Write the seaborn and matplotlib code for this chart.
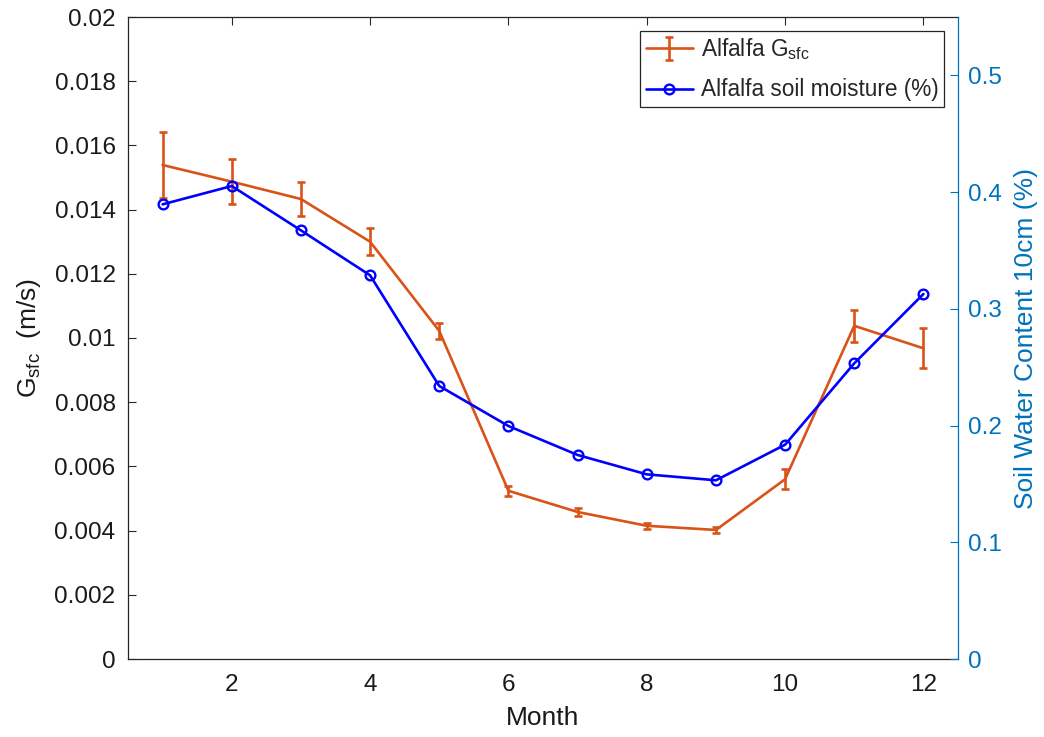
import matplotlib
matplotlib.use('Agg')
import matplotlib.pyplot as plt
import seaborn as sns
import pandas as pd

# ---------------- data ----------------
months = [1, 2, 3, 4, 5, 6, 7, 8, 9, 10, 11, 12]
gsfc = [0.01539, 0.01487, 0.01433, 0.01300, 0.01022, 0.00524,
        0.00458, 0.00415, 0.00402, 0.00560, 0.01038, 0.00968]
gsfc_err = [0.00102, 0.00071, 0.00052, 0.00042, 0.00026, 0.00016,
            0.00013, 0.00010, 0.00010, 0.00031, 0.00049, 0.00062]
soil = [0.3895, 0.4052, 0.3672, 0.3287, 0.2339, 0.1996,
        0.1748, 0.1582, 0.1531, 0.1836, 0.2533, 0.3127]

x_ticks = [2, 4, 6, 8, 10, 12]
left_ticks = [0, 0.002, 0.004, 0.006, 0.008, 0.010, 0.012, 0.014, 0.016, 0.018, 0.020]
left_tick_labels = ['0', '0.002', '0.004', '0.006', '0.008', '0.01',
                    '0.012', '0.014', '0.016', '0.018', '0.02']
right_ticks = [0, 0.1, 0.2, 0.3, 0.4, 0.5]
right_tick_labels = ['0', '0.1', '0.2', '0.3', '0.4', '0.5']

label_gsfc = r'Alfalfa $\mathregular{G_{sfc}}$'
label_soil = 'Alfalfa soil moisture (%)'
xlabel = 'Month'
ylabel_left = r'$\mathregular{G_{sfc}}$  (m/s)'
ylabel_right = 'Soil Water Content 10cm (%)'

# ---------------- style ----------------
orange = '#D95319'
blue = '#0000FF'
axis_blue = '#0072BD'
gray = '#262626'

sns.set_theme(style='white')
plt.rcParams['font.family'] = ['Liberation Sans', 'DejaVu Sans']
plt.rcParams['mathtext.fontset'] = 'custom'
plt.rcParams['mathtext.rm'] = 'Liberation Sans'
plt.rcParams['axes.linewidth'] = 0.9

df = pd.DataFrame({'month': months, 'gsfc': gsfc, 'err': gsfc_err, 'soil': soil})

fig = plt.figure(figsize=(10.44, 7.37), dpi=100)
ax1 = fig.add_axes([128 / 1044, 1 - 659 / 737, (958 - 128) / 1044, (659 - 17) / 737])

sns.lineplot(data=df, x='month', y='gsfc', ax=ax1, color=orange, linewidth=1.9)
gline = ax1.get_lines()[-1]
eb = ax1.errorbar(df['month'], df['gsfc'], yerr=df['err'], fmt='none',
                  ecolor=orange, elinewidth=1.9, capsize=2.6, capthick=1.9)

ax1.set_xlim(0.5, 12.5)
ax1.set_ylim(0, 0.02)
ax1.set_xticks(x_ticks)
ax1.set_xticklabels([str(t) for t in x_ticks])
ax1.set_yticks(left_ticks)
ax1.set_yticklabels(left_tick_labels)
ax1.tick_params(axis='both', direction='in', length=6, width=0.8, color=gray,
                labelsize=17.5, labelcolor='#1a1a1a', top=True, right=False)
ax1.tick_params(axis='x', pad=11)
ax1.tick_params(axis='y', pad=9)
ax1.set_xlabel(xlabel, fontsize=19, color='#1a1a1a', labelpad=7)
ax1.set_ylabel(ylabel_left, fontsize=19, color='#1a1a1a', labelpad=8)
for s in ['left', 'bottom', 'top']:
    ax1.spines[s].set_color(gray)
    ax1.spines[s].set_linewidth(0.9)
ax1.spines['right'].set_visible(False)

ax2 = ax1.twinx()
sns.lineplot(data=df, x='month', y='soil', ax=ax2, color=blue, linewidth=1.9,
             marker='o', markersize=7, markerfacecolor='none',
             markeredgecolor=blue, markeredgewidth=1.7)
sline = ax2.get_lines()[-1]
ax2.set_ylim(0, 0.55)
ax2.set_yticks(right_ticks)
ax2.set_yticklabels(right_tick_labels)
ax2.tick_params(axis='y', direction='in', length=6, width=0.8, color=axis_blue,
                labelsize=17.5, labelcolor=axis_blue, pad=7)
ax2.set_ylabel(ylabel_right, fontsize=19, color=axis_blue, labelpad=9)
for s in ['left', 'bottom', 'top']:
    ax2.spines[s].set_visible(False)
ax2.spines['right'].set_color(axis_blue)
ax2.spines['right'].set_linewidth(0.9)
ax2.set_xlim(0.5, 12.5)

leg = ax2.legend([(gline, eb), sline], [label_gsfc, label_soil], loc='upper right',
                 fontsize=16.3, frameon=True, fancybox=False, framealpha=1,
                 edgecolor='#262626', borderaxespad=0.6, handlelength=2.1,
                 handletextpad=0.35, labelspacing=0.72, borderpad=0.25)
leg.get_frame().set_linewidth(0.9)

fig.savefig('out.png', dpi=100)
